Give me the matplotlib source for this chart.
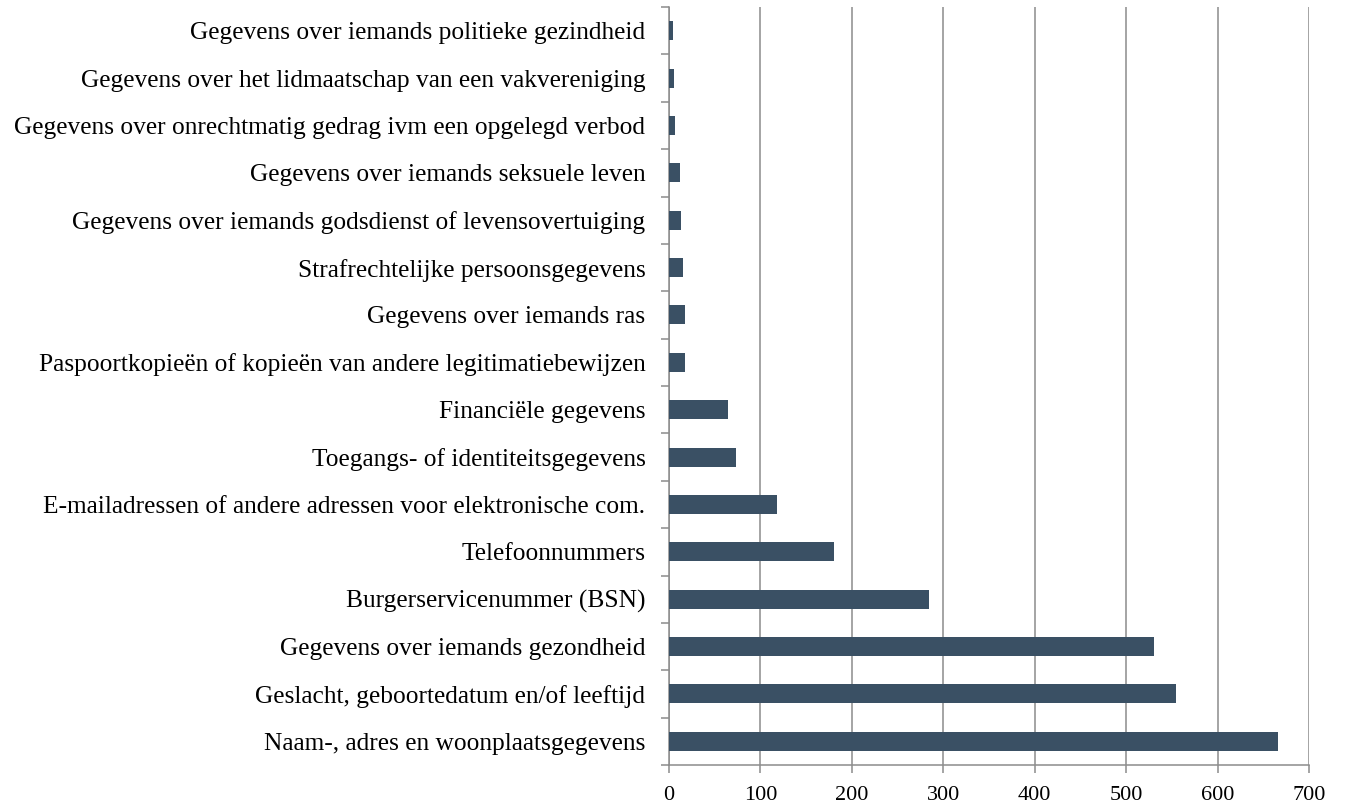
import matplotlib.pyplot as plt

categories = [
    "Naam-, adres en woonplaatsgegevens",
    "Geslacht, geboortedatum en/of leeftijd",
    "Gegevens over iemands gezondheid",
    "Burgerservicenummer (BSN)",
    "Telefoonnummers",
    "E-mailadressen of andere adressen voor elektronische com.",
    "Toegangs- of identiteitsgegevens",
    "Financiële gegevens",
    "Paspoortkopieën of kopieën van andere legitimatiebewijzen",
    "Gegevens over iemands ras",
    "Strafrechtelijke persoonsgegevens",
    "Gegevens over iemands godsdienst of levensovertuiging",
    "Gegevens over iemands seksuele leven",
    "Gegevens over onrechtmatig gedrag ivm een opgelegd verbod",
    "Gegevens over het lidmaatschap van een vakvereniging",
    "Gegevens over iemands politieke gezindheid",
]
values = [666, 555, 531, 284, 181, 118, 73, 64, 18, 18, 15, 13, 12, 7, 6, 4]
x_ticks = [0, 100, 200, 300, 400, 500, 600, 700]

plt.rcParams["font.family"] = ["Liberation Serif", "DejaVu Serif"]

fig = plt.figure(figsize=(13.46, 8.09), dpi=100)
ax = fig.add_axes([669 / 1346, 1 - 765 / 809, 640 / 1346, 758 / 809])

pos = list(range(len(categories)))
ax.barh(pos, values, height=0.4, color="#3a5064", zorder=3)

ax.set_xlim(0, 700)
ax.set_ylim(-0.5, len(categories) - 0.5)
ax.set_xticks(x_ticks)
ax.set_xticklabels([str(t) for t in x_ticks], fontsize=16)
ax.set_yticks(pos)
ax.set_yticklabels(categories, fontsize=18.3)
ax.set_yticks([p - 0.5 for p in pos] + [len(pos) - 0.5], minor=True)

ax.tick_params(axis="y", which="major", length=0, pad=17)
ax.tick_params(axis="y", which="minor", length=6, width=1.1, color="#8c8c8c")
ax.tick_params(axis="x", length=6, width=1.1, color="#8c8c8c", pad=9)

ax.grid(axis="x", color="#8c8c8c", linewidth=1.1, zorder=0)
for side in ["top", "right"]:
    ax.spines[side].set_visible(False)
for side in ["left", "bottom"]:
    ax.spines[side].set_color("#8c8c8c")
    ax.spines[side].set_linewidth(1.1)

fig.savefig("out.png", dpi=100)
